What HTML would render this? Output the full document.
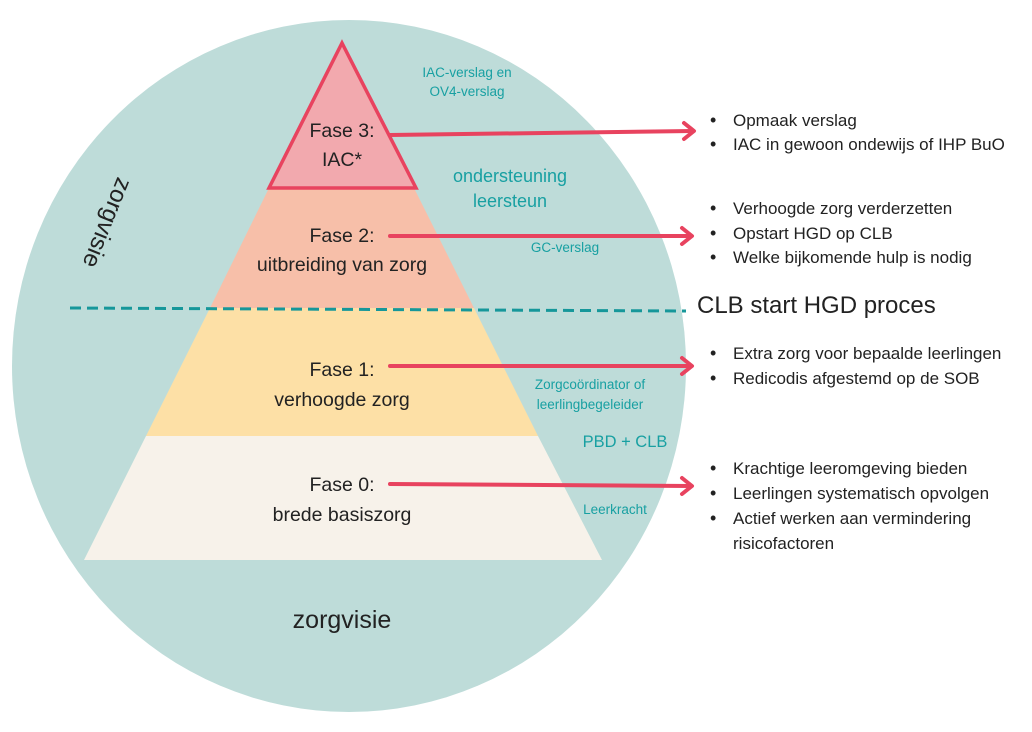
<!DOCTYPE html>
<html><head><meta charset="utf-8"><style>html,body{margin:0;padding:0;background:#fff}svg{display:block}</style></head>
<body>
<svg width="1032" height="732" viewBox="0 0 1032 732" xmlns="http://www.w3.org/2000/svg" font-family="Liberation Sans, sans-serif">
<ellipse cx="349" cy="366" rx="337" ry="346" fill="#bedcd9"/>
<polygon points="84,560 602,560 538,436 146,436" fill="#f7f2ea"/>
<polygon points="146,436 538,436 474,308 210,308" fill="#fde0a6"/>
<polygon points="210,308 474,308 414,188 269,188" fill="#f7bfa9"/>
<polygon points="342,43 416,188 269,188" fill="#f2a9ae" stroke="#e8435f" stroke-width="3.5" stroke-linejoin="miter"/>
<line x1="70" y1="308" x2="686" y2="311" stroke="#16979a" stroke-width="3" stroke-dasharray="11,6"/>
<g stroke="#e8435f" stroke-width="4" fill="none" stroke-linecap="round" stroke-linejoin="round">
<line x1="390" y1="135" x2="693" y2="131"/><polyline points="684,123 694,131 684,139"/>
<line x1="390" y1="236" x2="691" y2="236"/><polyline points="682,228 692,236 682,244"/>
<line x1="390" y1="366" x2="691" y2="366"/><polyline points="682,358 692,366 682,374"/>
<line x1="390" y1="484" x2="691" y2="486"/><polyline points="682,478 692,486 682,494"/>
</g>
<g fill="#222" font-size="19.5" text-anchor="middle">
<text x="342" y="137">Fase 3:</text><text x="342" y="166">IAC*</text>
<text x="342" y="242">Fase 2:</text><text x="342" y="271">uitbreiding van zorg</text>
<text x="342" y="376">Fase 1:</text><text x="342" y="406">verhoogde zorg</text>
<text x="342" y="491">Fase 0:</text><text x="342" y="521">brede basiszorg</text>
<text x="342" y="628" font-size="25">zorgvisie</text>
<text x="0" y="0" font-size="24" transform="translate(100,220) rotate(112)">zorgvisie</text>
</g>
<g fill="#18a0a2" text-anchor="middle">
<text x="467" y="77" font-size="13.5">IAC-verslag en</text>
<text x="467" y="96" font-size="13.5">OV4-verslag</text>
<text x="510" y="182" font-size="18">ondersteuning</text>
<text x="510" y="207" font-size="18">leersteun</text>
<text x="565" y="252" font-size="13.5">GC-verslag</text>
<text x="590" y="389" font-size="13.5">Zorgcoördinator of</text>
<text x="590" y="409" font-size="13.5">leerlingbegeleider</text>
<text x="625" y="447" font-size="16.5">PBD + CLB</text>
<text x="615" y="514" font-size="13.5">Leerkracht</text>
</g>
<g fill="#222" font-size="17">
<text x="697" y="313" font-size="24">CLB start HGD proces</text>
<g font-size="18"><text x="710" y="126">•</text><text x="710" y="150">•</text>
<text x="710" y="214">•</text><text x="710" y="239">•</text><text x="710" y="263">•</text>
<text x="710" y="359">•</text><text x="710" y="384">•</text>
<text x="710" y="474">•</text><text x="710" y="499">•</text><text x="710" y="524">•</text></g>
<text x="733" y="126">Opmaak verslag</text>
<text x="733" y="150">IAC in gewoon ondewijs of IHP BuO</text>
<text x="733" y="214">Verhoogde zorg verderzetten</text>
<text x="733" y="239">Opstart HGD op CLB</text>
<text x="733" y="263">Welke bijkomende hulp is nodig</text>
<text x="733" y="359">Extra zorg voor bepaalde leerlingen</text>
<text x="733" y="384">Redicodis afgestemd op de SOB</text>
<text x="733" y="474">Krachtige leeromgeving bieden</text>
<text x="733" y="499">Leerlingen systematisch opvolgen</text>
<text x="733" y="524">Actief werken aan vermindering</text>
<text x="733" y="549">risicofactoren</text>
</g>
</svg>
</body></html>
